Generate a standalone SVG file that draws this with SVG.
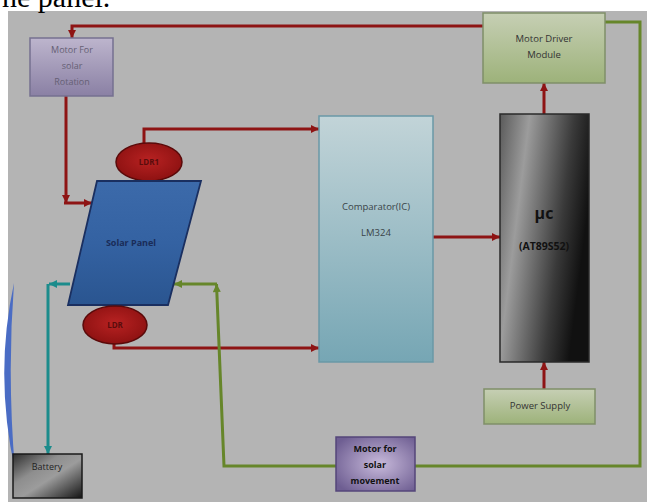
<svg xmlns="http://www.w3.org/2000/svg" width="647" height="502" viewBox="0 0 647 502">
<style>
.t{font-family:"Open Sans","Liberation Sans",sans-serif;text-anchor:middle;}
.red{fill:none;stroke:#8e1414;stroke-width:3;}
.grn{fill:none;stroke:#66862a;stroke-width:3;}
.teal{fill:none;stroke:#1c8c8c;stroke-width:3;}
</style>
<defs>
<marker id="ar" viewBox="0 0 10 10" refX="10" refY="5" markerWidth="9" markerHeight="8" markerUnits="userSpaceOnUse" orient="auto"><path d="M0,0 L10,5 L0,10 z" fill="#8e1414"/></marker>
<marker id="ag" viewBox="0 0 10 10" refX="10" refY="5" markerWidth="9" markerHeight="8" markerUnits="userSpaceOnUse" orient="auto"><path d="M0,0 L10,5 L0,10 z" fill="#66862a"/></marker>
<marker id="at" viewBox="0 0 10 10" refX="10" refY="5" markerWidth="9" markerHeight="8" markerUnits="userSpaceOnUse" orient="auto"><path d="M0,0 L10,5 L0,10 z" fill="#1c8c8c"/></marker>
<linearGradient id="gPurp" x1="0" y1="0" x2="0" y2="1"><stop offset="0" stop-color="#bdb5cd"/><stop offset="1" stop-color="#8a80a4"/></linearGradient>
<linearGradient id="gGreen" x1="0" y1="0" x2="0" y2="1"><stop offset="0" stop-color="#c6cfb4"/><stop offset="1" stop-color="#9db27a"/></linearGradient>
<linearGradient id="gBlue" x1="0" y1="0" x2="0" y2="1"><stop offset="0" stop-color="#c2d4d8"/><stop offset="1" stop-color="#76a6b4"/></linearGradient>
<linearGradient id="gPanel" x1="0" y1="0" x2="0" y2="1"><stop offset="0" stop-color="#3c6aaa"/><stop offset="0.5" stop-color="#3462a2"/><stop offset="1" stop-color="#2a5590"/></linearGradient>
<linearGradient id="gMc" x1="0" y1="0" x2="1" y2="0.35"><stop offset="0" stop-color="#5a5a5a"/><stop offset="0.3" stop-color="#9c9c9c"/><stop offset="0.75" stop-color="#3a3a3a"/><stop offset="1" stop-color="#111"/></linearGradient>
<radialGradient id="gLdr" cx="0.5" cy="0.45" r="0.6"><stop offset="0" stop-color="#b82222"/><stop offset="1" stop-color="#8a1010"/></radialGradient>
<radialGradient id="gMov" cx="0.55" cy="0.5" r="0.65"><stop offset="0" stop-color="#c8badb"/><stop offset="1" stop-color="#6e5e92"/></radialGradient>
<linearGradient id="gBat" x1="0" y1="0" x2="1" y2="1"><stop offset="0" stop-color="#2e2e2e"/><stop offset="0.35" stop-color="#8e8e8e"/><stop offset="0.55" stop-color="#9c9c9c"/><stop offset="1" stop-color="#141414"/></linearGradient>
</defs>
<rect x="0" y="0" width="647" height="502" fill="#ffffff"/>
<rect x="8" y="11" width="639" height="491" fill="#b4b4b4"/>
<path d="M14,283 Q-6,375 15,470 Q7,375 14,283 Z" fill="#4a6cc4"/>
<text x="2" y="7" font-family="'Liberation Serif',serif" font-size="30" fill="#000">ne panel.</text>

<g id="connectors">
<path class="red" d="M483,26 H72 V38" marker-end="url(#ar)"/>
<path class="red" d="M66,96 V203" marker-end="url(#ar)"/>
<path class="red" d="M64,203 H92" marker-end="url(#ar)"/>
<path class="red" d="M144,143 V129 H319" marker-end="url(#ar)"/>
<path class="red" d="M114,344 V348 H319" marker-end="url(#ar)"/>
<path class="red" d="M433,237 H500" marker-end="url(#ar)"/>
<path class="red" d="M544,114 V83" marker-end="url(#ar)"/>
<path class="red" d="M544,389 V362" marker-end="url(#ar)"/>
<path class="grn" d="M605,22 H640 V466 H415"/>
<path class="grn" d="M336,466 H224 L216.5,284" marker-end="url(#ag)"/>
<path class="grn" d="M217,284 H174" marker-end="url(#ag)"/>
<path class="teal" d="M70,284 H49" marker-end="url(#at)"/>
<path class="teal" d="M48,284 V454" marker-end="url(#at)"/>
</g>

<g id="motor-rotation">
<rect x="30" y="38" width="83" height="58" fill="url(#gPurp)" stroke="#757090" stroke-width="1.5"/>
<text class="t" x="72" y="53" font-size="9" fill="#655f74">Motor For</text>
<text class="t" x="72" y="69" font-size="9" fill="#655f74">solar</text>
<text class="t" x="72" y="85" font-size="9" fill="#655f74">Rotation</text>
</g>

<g id="motor-driver">
<rect x="483" y="13" width="122" height="70" fill="url(#gGreen)" stroke="#7f8f68" stroke-width="1.5"/>
<text class="t" x="544" y="42" font-size="9.5" fill="#333">Motor Driver</text>
<text class="t" x="544" y="58" font-size="9.5" fill="#333">Module</text>
</g>

<g id="ldr1">
<ellipse cx="149" cy="162" rx="33" ry="19" fill="url(#gLdr)" stroke="#5a0a0a" stroke-width="1.5"/>
<text class="t" x="149" y="165" font-size="8" font-weight="bold" fill="#5a0c0c">LDR1</text>
</g>

<g id="solar-panel">
<polygon points="97,181 201,181 168,305 68,305" fill="url(#gPanel)" stroke="#1a2f60" stroke-width="1.8"/>
<text class="t" x="131" y="246" font-size="9" font-weight="bold" fill="#1a2c58">Solar Panel</text>
</g>

<g id="ldr">
<ellipse cx="115" cy="325" rx="32" ry="19" fill="url(#gLdr)" stroke="#5a0a0a" stroke-width="1.5"/>
<text class="t" x="115" y="328" font-size="8" font-weight="bold" fill="#5a0c0c">LDR</text>
</g>

<g id="comparator">
<rect x="319" y="116" width="114" height="246" fill="url(#gBlue)" stroke="#6a98a6" stroke-width="1.5"/>
<text class="t" x="376" y="210" font-size="9.5" fill="#3a4448">Comparator(IC)</text>
<text class="t" x="376" y="236" font-size="9.5" fill="#3a4448">LM324</text>
</g>

<g id="microcontroller">
<rect x="500" y="114" width="89" height="248" fill="url(#gMc)" stroke="#2a2a2a" stroke-width="1.5"/>
<text class="t" x="544" y="219" font-size="16" font-weight="bold" fill="#111">µc</text>
<text class="t" x="544" y="250" font-size="10.5" font-weight="bold" fill="#111">(AT89S52)</text>
</g>

<g id="power-supply">
<rect x="484" y="389" width="111" height="35" fill="url(#gGreen)" stroke="#7f8f68" stroke-width="1.5"/>
<text class="t" x="540" y="409" font-size="9.5" fill="#333">Power Supply</text>
</g>

<g id="motor-movement">
<rect x="336" y="437" width="79" height="54" fill="url(#gMov)" stroke="#54467a" stroke-width="1.5"/>
<text class="t" x="375" y="452" font-size="9" font-weight="bold" fill="#111">Motor for</text>
<text class="t" x="375" y="468" font-size="9" font-weight="bold" fill="#111">solar</text>
<text class="t" x="375" y="484" font-size="9" font-weight="bold" fill="#111">movement</text>
</g>

<g id="battery">
<rect x="13" y="454" width="69" height="44" fill="url(#gBat)" stroke="#1a1a1a" stroke-width="1.5"/>
<text class="t" x="47" y="470" font-size="9" fill="#222">Battery</text>
</g>
</svg>
